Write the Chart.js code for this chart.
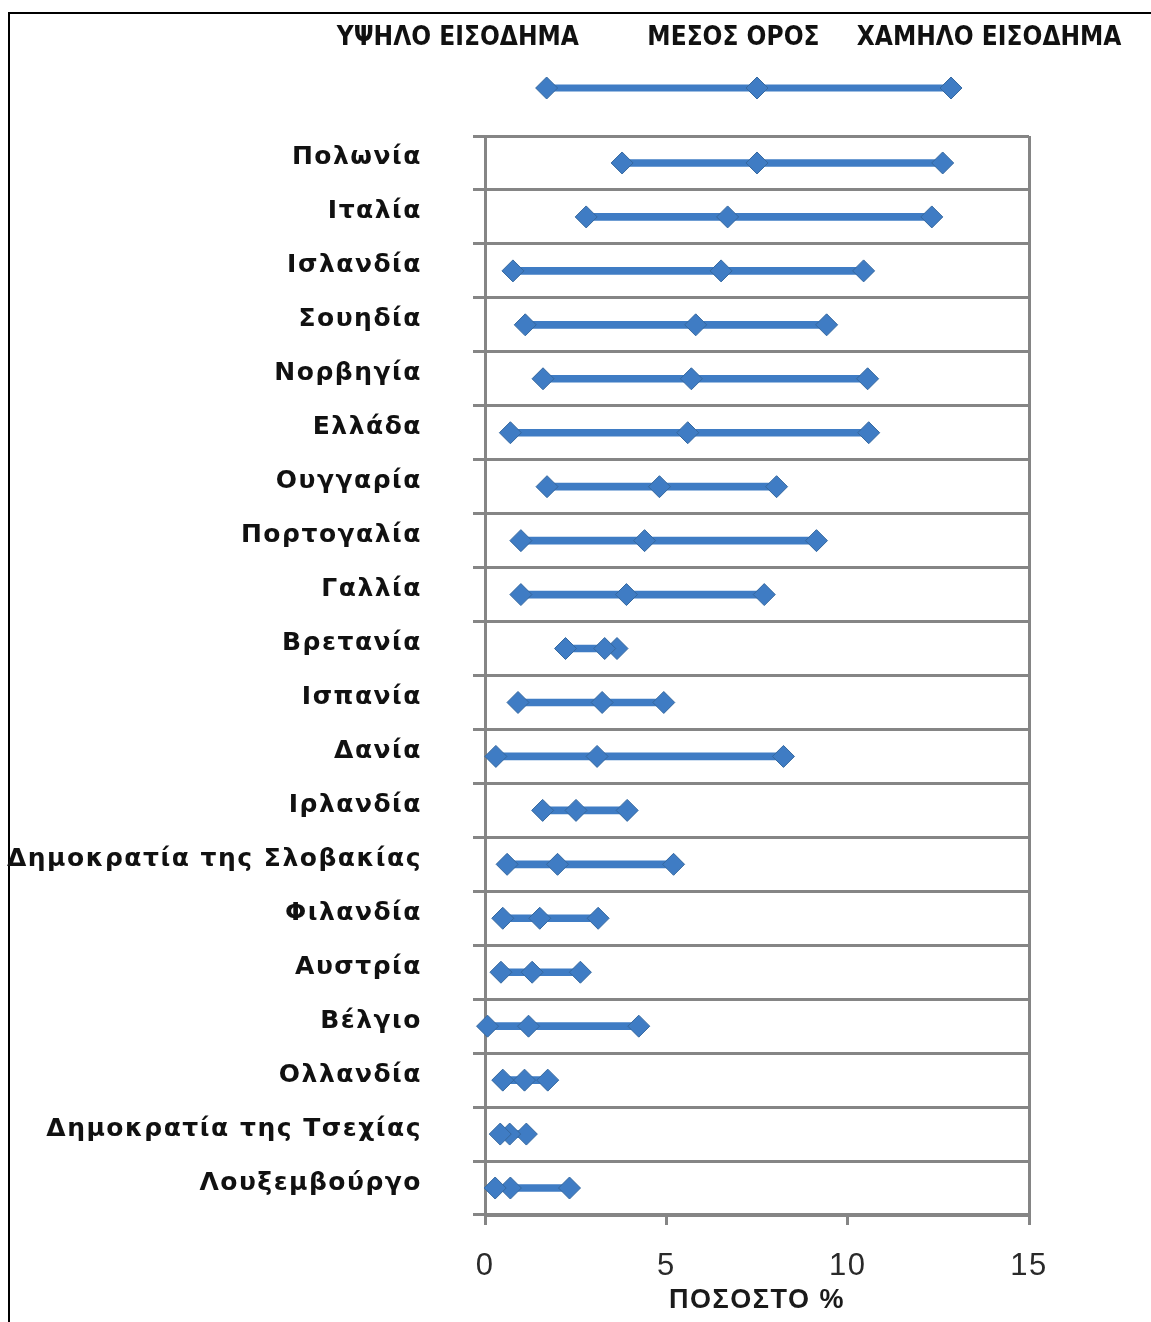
<!DOCTYPE html>
<html>
<head>
<meta charset="utf-8">
<script src="https://cdn.jsdelivr.net/npm/chart.js@4/dist/chart.umd.min.js"></script>
<style>
  html, body { margin: 0; padding: 0; background: #fff; }
  #wrap { position: relative; width: 1151px; height: 1322px; }
  #frame { position: absolute; left: 8px; top: 12px; right: 0; bottom: 0;
           border-left: 2px solid #000; border-top: 2px solid #000; }
  #c { position: absolute; left: 0; top: 0; }
</style>
</head>
<body>
<div id="wrap">
  <div id="frame"></div>
  <canvas id="c" width="1151" height="1322"></canvas>
</div>
<script>
// Countries, top to bottom
const countries = [
  'Πολωνία', 'Ιταλία', 'Ισλανδία', 'Σουηδία', 'Νορβηγία', 'Ελλάδα',
  'Ουγγαρία', 'Πορτογαλία', 'Γαλλία', 'Βρετανία', 'Ισπανία', 'Δανία',
  'Ιρλανδία', 'Δημοκρατία της Σλοβακίας', 'Φιλανδία', 'Αυστρία',
  'Βέλγιο', 'Ολλανδία', 'Δημοκρατία της Τσεχίας', 'Λουξεμβούργο'
];

// Percentage values (%)
const highIncome = [3.78, 2.79, 0.77, 1.11, 1.60, 0.70, 1.71, 0.99, 0.99, 2.22,
                    0.91, 0.30, 1.59, 0.61, 0.49, 0.44, 0.07, 0.49, 0.42, 0.28];
const average    = [7.50, 6.69, 6.51, 5.81, 5.69, 5.59, 4.81, 4.40, 3.90, 3.30,
                    3.23, 3.09, 2.51, 2.00, 1.51, 1.30, 1.20, 1.09, 0.68, 0.70];
const lowIncome  = [12.62, 12.32, 10.44, 9.42, 10.55, 10.58, 8.04, 9.14, 7.70, 3.64,
                    4.93, 8.23, 3.92, 5.20, 3.12, 2.63, 4.24, 1.73, 1.14, 2.33];

// Series names shown in the key above the plot
const seriesNames = ['ΥΨΗΛΟ ΕΙΣΟΔΗΜΑ', 'ΜΕΣΟΣ ΟΡΟΣ', 'ΧΑΜΗΛΟ ΕΙΣΟΔΗΜΑ'];
// Key sample line (x values) and key caption anchors (x values)
const keySample = [1.7, 7.5, 12.85];
const keyCaptionAt = [-0.75, 6.85, 13.9];

const xTitle = 'ΠΟΣΟΣΤΟ %';

const BLUE = '#3f7cc4';
const BLUE_EDGE = '#35689f';
const GRID = '#858585';

// Range from the high-income to the low-income value of each country
const ranges = countries.map((_, i) => [
  Math.min(highIncome[i], lowIncome[i]),
  Math.max(highIncome[i], lowIncome[i])
]);

function diamond(ctx, x, y, r) {
  ctx.beginPath();
  ctx.moveTo(x - r, y);
  ctx.lineTo(x, y - r);
  ctx.lineTo(x + r, y);
  ctx.lineTo(x, y + r);
  ctx.closePath();
  ctx.fillStyle = BLUE;
  ctx.fill();
  ctx.lineWidth = 1;
  ctx.strokeStyle = BLUE_EDGE;
  ctx.stroke();
}

// Letter spacing for the axis texts
const spacingPlugin = {
  id: 'spacing',
  beforeDraw(chart) { chart.ctx.letterSpacing = '1.5px'; },
  afterDraw(chart) { chart.ctx.letterSpacing = '0px'; }
};

// Key drawn above the plot area
const keyPlugin = {
  id: 'rowKey',
  afterDraw(chart) {
    const { ctx, chartArea } = chart;
    const x = chart.scales.x;
    const yLine = chartArea.top - 48;
    const yText = chartArea.top - 98;
    ctx.save();
    ctx.letterSpacing = '0px';
    const xs = keySample.map(v => x.getPixelForValue(v));
    ctx.strokeStyle = BLUE;
    ctx.lineWidth = 7;
    ctx.beginPath();
    ctx.moveTo(xs[0], yLine);
    ctx.lineTo(xs[xs.length - 1], yLine);
    ctx.stroke();
    xs.forEach(px => diamond(ctx, px, yLine, 11));
    ctx.fillStyle = '#111';
    ctx.font = 'bold 26px "Liberation Sans Narrow", "DejaVu Sans Condensed", sans-serif';
    ctx.textAlign = 'center';
    ctx.textBaseline = 'middle';
    seriesNames.forEach((t, i) => ctx.fillText(t, x.getPixelForValue(keyCaptionAt[i]), yText));
    ctx.restore();
  }
};

const pointSeries = (label, data) => ({
  type: 'line',
  label,
  data,
  showLine: false,
  pointStyle: 'rectRot',
  pointRadius: 11,
  pointHoverRadius: 11,
  pointBackgroundColor: BLUE,
  pointBorderColor: BLUE_EDGE,
  pointBorderWidth: 1,
  clip: false,
  order: 1
});

new Chart(document.getElementById('c'), {
  type: 'bar',
  data: {
    labels: countries,
    datasets: [
      {
        label: 'range',
        data: ranges,
        backgroundColor: BLUE,
        barThickness: 7,
        borderSkipped: false,
        order: 2
      },
      pointSeries(seriesNames[0], highIncome),
      pointSeries(seriesNames[1], average),
      pointSeries(seriesNames[2], lowIncome)
    ]
  },
  options: {
    indexAxis: 'y',
    responsive: false,
    animation: false,
    layout: { padding: { top: 136, right: 122, left: 0, bottom: 0 } },
    plugins: {
      legend: { display: false },
      tooltip: { enabled: false }
    },
    scales: {
      y: {
        type: 'category',
        offset: true,
        afterFit: s => { s.width = 485; },
        grid: {
          offset: true,
          color: GRID,
          lineWidth: 3,
          drawTicks: true,
          tickLength: 12
        },
        border: { color: GRID, width: 3 },
        ticks: {
          color: '#111',
          padding: 51,
          labelOffset: -5,
          font: { family: '"DejaVu Sans", sans-serif', weight: 'bold', size: 25 }
        }
      },
      x: {
        type: 'linear',
        min: 0,
        max: 15,
        afterFit: s => { s.height = 107; },
        grid: {
          color: c => (c.tick && c.tick.value === 15 ? GRID : 'rgba(0,0,0,0)'),
          tickColor: GRID,
          lineWidth: 3,
          drawTicks: true,
          tickLength: 10
        },
        border: { color: GRID, width: 3 },
        ticks: {
          stepSize: 5,
          color: '#2a2a2a',
          padding: 23,
          font: { family: '"Liberation Sans", Arial, sans-serif', size: 31 }
        },
        title: {
          display: true,
          text: xTitle,
          color: '#1a1a1a',
          padding: { top: 0, bottom: 5 },
          font: { family: '"Liberation Sans", Arial, sans-serif', weight: 'bold', size: 27 }
        }
      }
    }
  },
  plugins: [spacingPlugin, keyPlugin]
});
</script>
</body>
</html>
